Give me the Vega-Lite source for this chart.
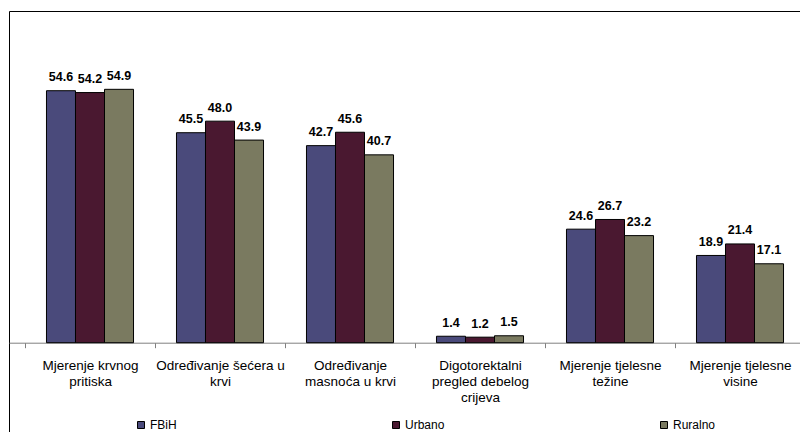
{
  "$schema": "https://vega.github.io/schema/vega-lite/v6.json",
  "autosize": {"type": "none"},
  "padding": {"left": 9, "top": 11, "right": 0, "bottom": 0},
  "width": 812,
  "height": 439,
  "background": "white",
  "config": {
    "view": {"stroke": "#000000", "strokeWidth": 1},
    "font": "Liberation Sans"
  },
  "data": {
    "values": [
      {"category": "Mjerenje krvnog pritiska", "group": "FBiH", "value": 54.6},
      {"category": "Mjerenje krvnog pritiska", "group": "Urbano", "value": 54.2},
      {"category": "Mjerenje krvnog pritiska", "group": "Ruralno", "value": 54.9},
      {"category": "Određivanje šećera u krvi", "group": "FBiH", "value": 45.5},
      {"category": "Određivanje šećera u krvi", "group": "Urbano", "value": 48.0},
      {"category": "Određivanje šećera u krvi", "group": "Ruralno", "value": 43.9},
      {"category": "Određivanje masnoća u krvi", "group": "FBiH", "value": 42.7},
      {"category": "Određivanje masnoća u krvi", "group": "Urbano", "value": 45.6},
      {"category": "Određivanje masnoća u krvi", "group": "Ruralno", "value": 40.7},
      {"category": "Digotorektalni pregled debelog crijeva", "group": "FBiH", "value": 1.4},
      {"category": "Digotorektalni pregled debelog crijeva", "group": "Urbano", "value": 1.2},
      {"category": "Digotorektalni pregled debelog crijeva", "group": "Ruralno", "value": 1.5},
      {"category": "Mjerenje tjelesne težine", "group": "FBiH", "value": 24.6},
      {"category": "Mjerenje tjelesne težine", "group": "Urbano", "value": 26.7},
      {"category": "Mjerenje tjelesne težine", "group": "Ruralno", "value": 23.2},
      {"category": "Mjerenje tjelesne visine", "group": "FBiH", "value": 18.9},
      {"category": "Mjerenje tjelesne visine", "group": "Urbano", "value": 21.4},
      {"category": "Mjerenje tjelesne visine", "group": "Ruralno", "value": 17.1}
    ]
  },
  "encoding": {
    "x": {
      "field": "category",
      "type": "nominal",
      "sort": null,
      "scale": {"paddingInner": 0, "paddingOuter": 0.1231},
      "axis": {
        "title": null,
        "orient": "bottom",
        "offset": -107.3,
        "labelAngle": 0,
        "tickBand": "extent",
        "tickSize": 5,
        "tickColor": "#808080",
        "domainColor": "#808080",
        "labelFont": "Liberation Sans",
        "labelFontSize": 13.5,
        "labelColor": "#000000",
        "labelLineHeight": 16,
        "labelPadding": 11,
        "labelLimit": 300,
        "labelOverlap": false,
        "labelExpr": "datum.label == 'Mjerenje krvnog pritiska' ? ['Mjerenje krvnog', 'pritiska'] : datum.label == 'Određivanje šećera u krvi' ? ['Određivanje šećera u', 'krvi'] : datum.label == 'Određivanje masnoća u krvi' ? ['Određivanje', 'masnoća u krvi'] : datum.label == 'Digotorektalni pregled debelog crijeva' ? ['Digotorektalni', 'pregled debelog', 'crijeva'] : datum.label == 'Mjerenje tjelesne težine' ? ['Mjerenje tjelesne', 'težine'] : datum.label == 'Mjerenje tjelesne visine' ? ['Mjerenje tjelesne', 'visine'] : datum.label"
      }
    },
    "xOffset": {
      "field": "group",
      "type": "nominal",
      "sort": ["FBiH", "Urbano", "Ruralno"],
      "scale": {"paddingInner": 0, "paddingOuter": 0.74}
    },
    "y": {
      "field": "value",
      "type": "quantitative",
      "scale": {"domain": [-23.25, 71.87], "nice": false, "zero": false},
      "axis": null
    }
  },
  "layer": [
    {
      "mark": {"type": "bar", "stroke": "#000000", "strokeWidth": 1},
      "encoding": {
        "color": {
          "field": "group",
          "type": "nominal",
          "sort": ["FBiH", "Urbano", "Ruralno"],
          "scale": {"domain": ["FBiH", "Urbano", "Ruralno"], "range": ["#4a4a7b", "#4a1830", "#7a7a60"]},
          "legend": {
            "title": null,
            "orient": "none",
            "direction": "horizontal",
            "legendX": 126,
            "legendY": 408,
            "padding": 0,
            "symbolType": "square",
            "symbolSize": 49,
            "symbolStrokeColor": "#000000",
            "symbolStrokeWidth": 1,
            "symbolOpacity": 1,
            "labelFont": "Liberation Sans",
            "labelFontSize": 12,
            "labelColor": "#000000",
            "labelOffset": 3,
            "columnPadding": 213
          }
        }
      }
    },
    {
      "mark": {"type": "text", "baseline": "alphabetic", "dy": -9.5, "fontWeight": "bold", "fontSize": 12.5, "font": "Liberation Sans", "color": "#000000"},
      "encoding": {
        "text": {"field": "value", "type": "quantitative", "format": ".1f"}
      }
    }
  ]
}
